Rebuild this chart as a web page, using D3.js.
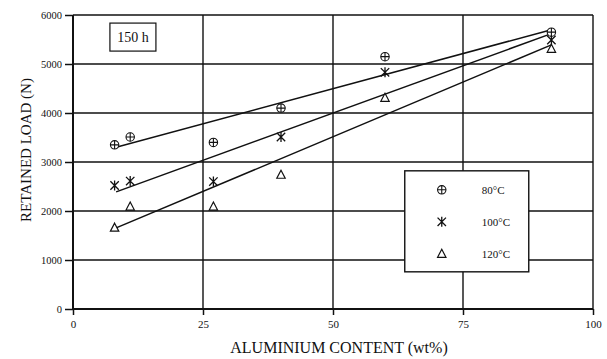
<!DOCTYPE html>
<html>
<head>
<meta charset="utf-8">
<script src="https://cdn.jsdelivr.net/npm/d3@7"></script>
<style>
  body { margin: 0; background: #fff; }
  text { font-family: "Liberation Serif", "DejaVu Serif", serif; fill: #111; }
</style>
</head>
<body>
<div id="chart"></div>
<script>
const MARGIN = { TOP: 15, BOTTOM: 50, LEFT: 73, RIGHT: 14 }
const WIDTH = 607 - MARGIN.LEFT - MARGIN.RIGHT;
const HEIGHT = 359 - MARGIN.TOP - MARGIN.BOTTOM;

// aluminium content (wt%)
const alContent = [8, 11, 27, 40, 60, 92];
// retained load (N) per temperature
const load80 = [3350, 3510, 3400, 4100, 5150, 5650];
const load100 = [2520, 2610, 2600, 3510, 4830, 5490];
const load120 = [1660, 2090, 2090, 2740, 4310, 5310];

// trend lines: [x, load] at each end
const fit80 = [[8.3, 3300], [92, 5700]];
const fit100 = [[8.3, 2390], [92, 5620]];
const fit120 = [[8.3, 1655], [92, 5390]];

const xTicks = [0, 25, 50, 75, 100];
const yTicks = [0, 1000, 2000, 3000, 4000, 5000, 6000];
const seriesNames = ['80°C', '100°C', '120°C'];

const svg = d3.select('#chart')
  .append('svg')
    .attr('width', 607)
    .attr('height', 359)
  .append('g')
    .attr('transform', `translate(${MARGIN.LEFT}, ${MARGIN.TOP})`)

const x = d3.scaleLinear().domain([0, 100]).range([0, WIDTH])
const y = d3.scaleLinear().domain([0, 6000]).range([HEIGHT, 0])

// grid
svg.append('g')
  .selectAll('line')
  .data(yTicks.filter(d => d > 0))
  .enter().append('line')
    .attr('x1', 0).attr('x2', WIDTH)
    .attr('y1', d => y(d)).attr('y2', d => y(d))
    .attr('stroke', '#111').attr('stroke-width', 1.4)

svg.append('g')
  .selectAll('line')
  .data(xTicks.filter(d => d > 0))
  .enter().append('line')
    .attr('x1', d => x(d)).attr('x2', d => x(d))
    .attr('y1', 0).attr('y2', HEIGHT)
    .attr('stroke', '#111').attr('stroke-width', 1.4)

// axes
const xAxisCall = d3.axisBottom(x).tickValues(xTicks).tickSize(6).tickPadding(5)
const xAxisGroup = svg.append('g')
  .attr('transform', `translate(0, ${HEIGHT})`)
  .call(xAxisCall)

const yAxisCall = d3.axisLeft(y).tickValues(yTicks).tickFormat(d3.format('d')).tickSize(8).tickPadding(3)
const yAxisGroup = svg.append('g').call(yAxisCall)

;[xAxisGroup, yAxisGroup].forEach(g => {
  g.select('.domain').attr('stroke', '#111').attr('stroke-width', 2)
  g.selectAll('.tick line').attr('stroke', '#111').attr('stroke-width', 1.5)
  g.selectAll('.tick text').attr('fill', '#111')
})
xAxisGroup.selectAll('.tick text')
  .attr('font-family', '"Liberation Serif", serif')
  .attr('font-size', 11)
yAxisGroup.selectAll('.tick text')
  .attr('font-family', '"Liberation Sans", sans-serif')
  .attr('font-size', 10.5)
xAxisGroup.select('.domain').attr('d', `M0,0H${WIDTH}`)
yAxisGroup.select('.domain').attr('d', `M0,${HEIGHT}V0`)

// labels
svg.append('text')
  .attr('x', WIDTH / 2 + 6)
  .attr('y', HEIGHT + 44)
  .attr('text-anchor', 'middle')
  .attr('font-size', 16)
  .text('ALUMINIUM CONTENT (wt%)')

svg.append('text')
  .attr('x', -(150 - MARGIN.TOP))
  .attr('y', -42)
  .attr('text-anchor', 'middle')
  .attr('font-size', 15)
  .attr('transform', 'rotate(-90)')
  .text('RETAINED LOAD (N)')

// "150 h" box
svg.append('rect')
  .attr('x', x(7.1)).attr('y', y(5835))
  .attr('width', 46).attr('height', 28)
  .attr('fill', '#fff').attr('stroke', '#111').attr('stroke-width', 1.2)
svg.append('text')
  .attr('x', x(7.1) + 23).attr('y', y(5835) + 19)
  .attr('text-anchor', 'middle')
  .attr('font-size', 14)
  .text('150 h')

// trend lines
const line = d3.line().x(d => x(d[0])).y(d => y(d[1]))
svg.selectAll('path.fit')
  .data([fit80, fit100, fit120])
  .enter().append('path')
    .attr('class', 'fit')
    .attr('d', line)
    .attr('fill', 'none')
    .attr('stroke', '#111')
    .attr('stroke-width', 1.5)

// markers
const drawMarker = (g, type) => {
  if (type === 0) {
    g.append('circle').attr('r', 4.2).attr('fill', '#fff').attr('stroke', '#111').attr('stroke-width', 1.1)
    g.append('path').attr('d', 'M-4.2,0H4.2M0,-4.2V4.2').attr('stroke', '#111').attr('stroke-width', 1.1)
  } else if (type === 1) {
    g.append('path').attr('d', 'M0,-5V5M-4.2,-4.2L4.2,4.2M-4.2,4.2L4.2,-4.2')
      .attr('stroke', '#111').attr('stroke-width', 1.3)
  } else {
    g.append('path').attr('d', 'M0,-4.5L4.2,3.5H-4.2Z')
      .attr('fill', '#fff').attr('stroke', '#111').attr('stroke-width', 1.2)
  }
}

;[load80, load100, load120].forEach((series, s) => {
  svg.append('g')
    .selectAll('g')
    .data(series)
    .enter().append('g')
      .attr('transform', (d, i) => `translate(${x(alContent[i])}, ${y(d)})`)
      .each(function () { drawMarker(d3.select(this), s) })
})

// legend
const legend = svg.append('g')
  .attr('transform', `translate(${x(63.8)}, ${y(2820)})`)
legend.append('rect')
  .attr('width', 124).attr('height', 101)
  .attr('fill', '#fff').attr('stroke', '#111').attr('stroke-width', 1.4)
seriesNames.forEach((name, i) => {
  const row = legend.append('g').attr('transform', `translate(37, ${19 + i * 32})`)
  drawMarker(row, i)
  row.append('text')
    .attr('x', 40).attr('y', 4)
    .attr('font-size', 11)
    .text(name)
})
</script>
</body>
</html>
